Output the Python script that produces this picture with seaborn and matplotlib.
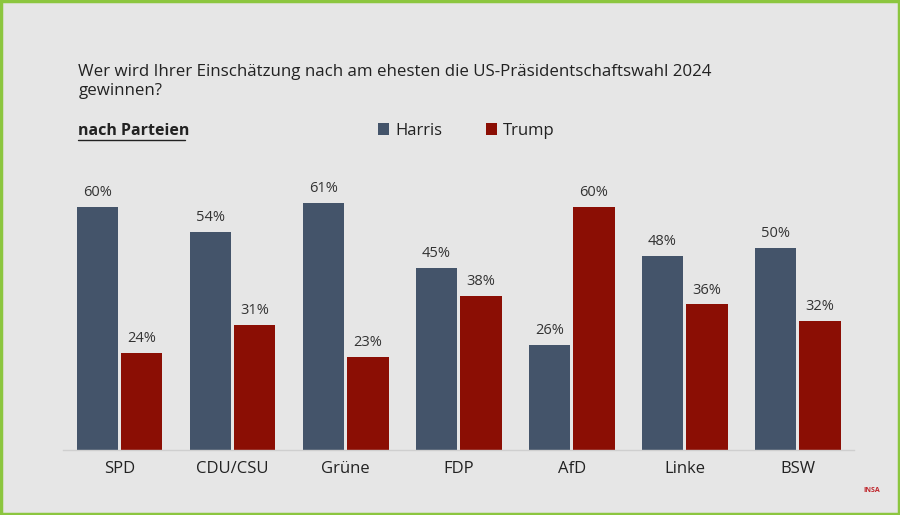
import pandas as pd
import matplotlib.pyplot as plt
import seaborn as sns
from matplotlib.patches import Rectangle

# Data
parteien = ['SPD', 'CDU/CSU', 'Grüne', 'FDP', 'AfD', 'Linke', 'BSW']
harris = [60, 54, 61, 45, 26, 48, 50]
trump = [24, 31, 23, 38, 60, 36, 32]
kandidaten = ['Harris', 'Trump']
farben = ['#44546a', '#8b0e04']

df = pd.DataFrame({
    'Partei': parteien * 2,
    'Kandidat': ['Harris'] * len(parteien) + ['Trump'] * len(parteien),
    'Wert': harris + trump,
})

sns.set_theme(style='white')
plt.rcParams['font.family'] = ['Open Sans', 'DejaVu Sans']
bg = '#e6e6e6'

fig = plt.figure(figsize=(9, 5.15), dpi=100, facecolor=bg)
ax = fig.add_axes([0.07, 0.126, 0.879, 0.524], facecolor=bg)

sns.barplot(data=df, x='Partei', y='Wert', hue='Kandidat', hue_order=kandidaten,
            palette=farben, width=0.78, gap=0.05, saturation=1, linewidth=0, ax=ax)

for cont in ax.containers:
    ax.bar_label(cont, fmt='%d%%', padding=5, fontsize=10.5, color='#333333')

ax.set_xlim(-0.5, 6.5)
ax.set_ylim(0, 66.7)
ax.set_xlabel('')
ax.set_ylabel('')
ax.set_yticks([])
ax.tick_params(axis='x', length=0, pad=8, labelsize=12, labelcolor='#222222')
for s in ['top', 'right', 'left']:
    ax.spines[s].set_visible(False)
ax.spines['bottom'].set_color('#cfcfcf')
ax.spines['bottom'].set_linewidth(1)

sns.move_legend(ax, loc='center left', bbox_to_anchor=(0.403, 0.746),
                bbox_transform=fig.transFigure, ncol=2, frameon=False, title=None,
                fontsize=12, handlelength=0.7, handleheight=0.7, handletextpad=0.35,
                columnspacing=2.6)
for t in ax.get_legend().get_texts():
    t.set_color('#222222')

# Title and subtitle
fig.text(0.087, 0.842, 'Wer wird Ihrer Einschätzung nach am ehesten die US-Präsidentschaftswahl 2024\ngewinnen?',
         fontsize=12.2, color='#222222', va='center', linespacing=1.3)
fig.text(0.087, 0.746, 'nach Parteien', fontsize=11.5, fontweight='bold',
         color='#222222', va='center')
fig.add_artist(plt.Line2D([0.087, 0.205], [0.728, 0.728], color='#222222', lw=1))

fig.text(0.978, 0.044, 'INSA', fontsize=5, color='#c0272d', fontweight='bold', ha='right')

# green frame
fig.patches.append(Rectangle((0.001, 0.002), 0.998, 0.996, transform=fig.transFigure,
                             fill=False, edgecolor='#8cc63f', lw=2.5))

fig.savefig('out.png', dpi=100, facecolor=bg)
